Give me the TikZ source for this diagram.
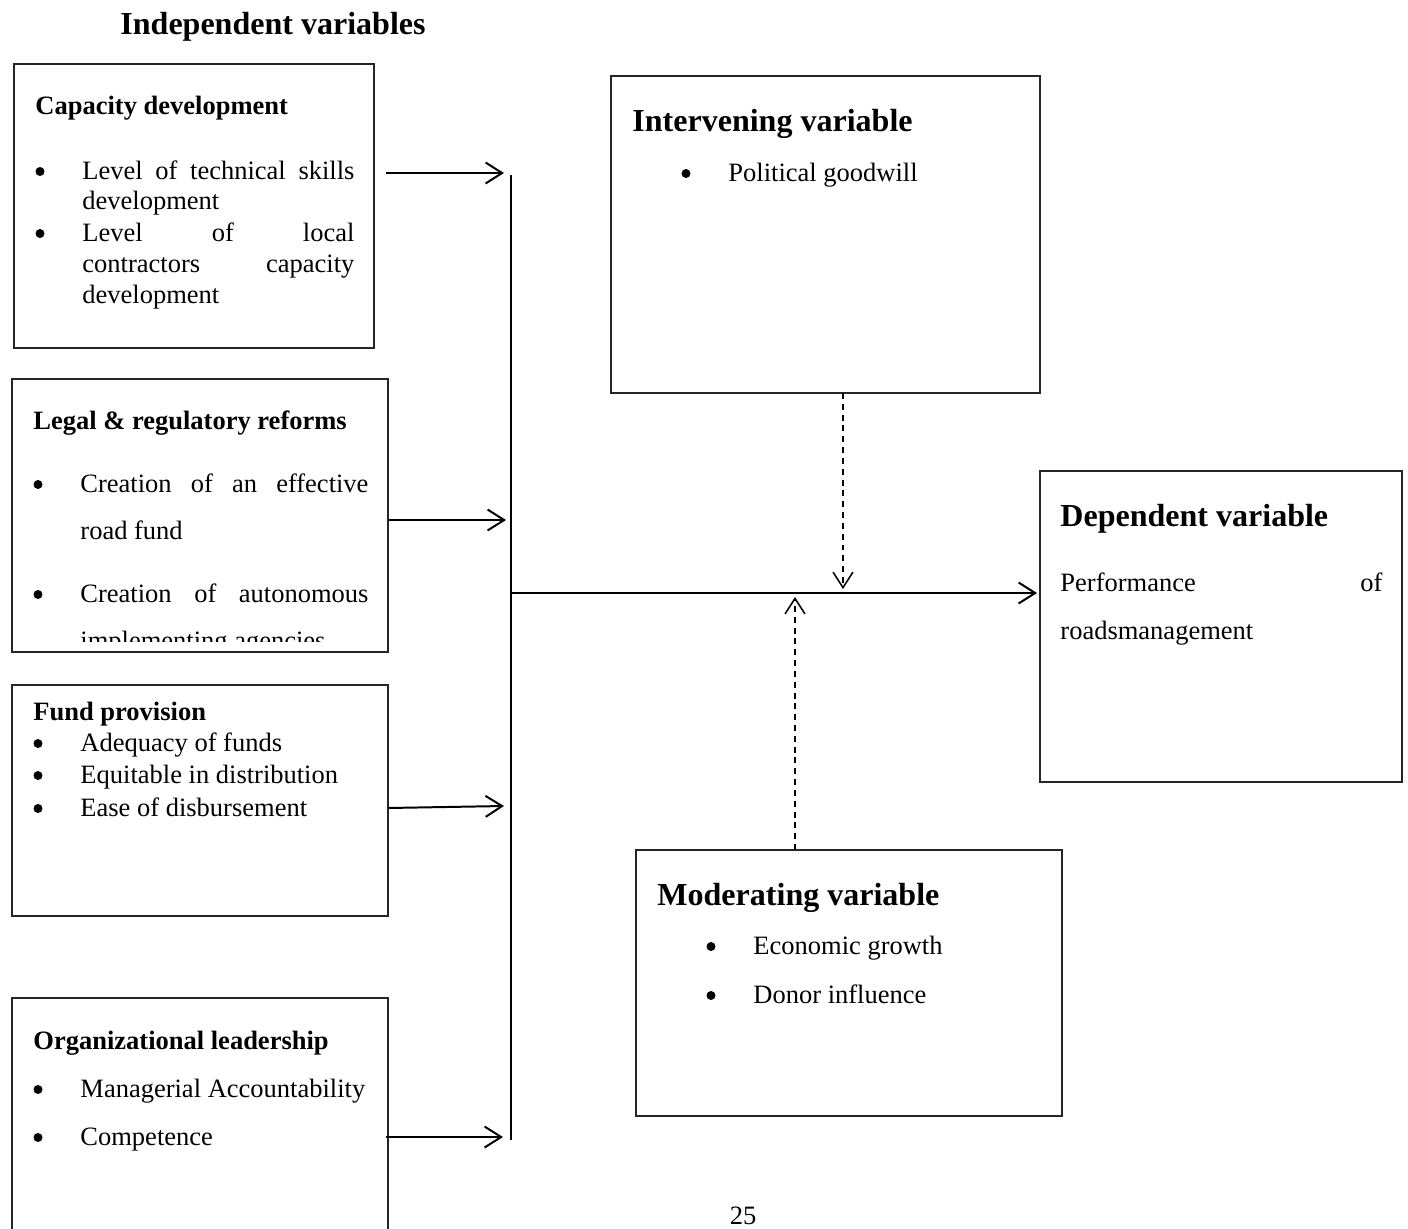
\documentclass[tikz,border=0pt]{standalone}
\usepackage{fontspec}
\setmainfont{Liberation Serif}
\usetikzlibrary{arrows.meta}
\newlength\pxu \setlength\pxu{0.4528pt}
\tikzset{
 box/.style={draw=black!85, line width=0.75pt, inner sep=0pt, outer sep=0pt},
 arr/.style={line width=0.9pt, -{Straight Barb[length=7.5pt,width=9.5pt,line width=0.9pt]}},
 darr/.style={line width=0.7pt, dash pattern=on 2.7pt off 2.2pt, -{Straight Barb[length=7pt,width=9pt,line width=0.7pt]}},
 txt/.style={anchor=base west, inner sep=0pt, font=\fontsize{12}{14}\selectfont},
 bul/.style={circle, fill=black, inner sep=0pt, minimum size=9\pxu},
 pgn/.style={anchor=base, inner sep=0pt, font=\fontsize{12}{14}\selectfont},
 hd/.style={anchor=base west, inner sep=0pt, font=\fontsize{12}{14}\selectfont\bfseries},
 bighd/.style={anchor=base west, inner sep=0pt, font=\fontsize{14.5}{17}\selectfont\bfseries},
}
\begin{document}
\begin{tikzpicture}[x=0.4528pt, y=-0.4528pt]
\useasboundingbox[fill=white] (0,0) rectangle (1408,1228);

% title
\node[bighd] (title) at (120,34) {Independent variables};

% Box 1
\node[box, minimum width=360\pxu, minimum height=284\pxu] (b1) at (194,206) {};
\node[hd] (b1h) at (35,114) {Capacity development};
\node[bul] (b1b1) at (40,171.5) {};
\node[txt] (b1l1) at (82,179) {\makebox[272\pxu][s]{Level of technical skills}};
\node[txt] (b1l2) at (82,209) {development};
\node[bul] (b1b2) at (40,233.5) {};
\node[txt] (b1l3) at (82,241) {\makebox[272\pxu][s]{Level of local}};
\node[txt] (b1l4) at (82,272) {\makebox[272\pxu][s]{contractors capacity}};
\node[txt] (b1l5) at (82,303) {development};

% Box 2
\node[box, minimum width=376\pxu, minimum height=273\pxu] (b2) at (200,515.5) {};
\node[hd] (b2h) at (33,429) {Legal \& regulatory reforms};
\node[bul] (b2b1) at (38,484.5) {};
\node[txt] (b2l1) at (80,492) {\makebox[288\pxu][s]{Creation of an effective}};
\node[txt] (b2l2) at (80,539) {road fund};
\node[bul] (b2b2) at (38,594.5) {};
\node[txt] (b2l3) at (80,602) {\makebox[288\pxu][s]{Creation of autonomous}};
\begin{scope}
\clip (0,0) rectangle (1408,641);
\node[txt] (b2l4) at (80,649) {implementing agencies};
\end{scope}

% Box 3
\node[box, minimum width=376\pxu, minimum height=231\pxu] (b3) at (200,800.5) {};
\node[hd] (b3h) at (33,720) {Fund provision};
\node[bul] (b3b1) at (38,743.5) {};
\node[txt] (b3l1) at (80,751) {Adequacy of funds};
\node[bul] (b3b2) at (38,775.5) {};
\node[txt] (b3l2) at (80,783) {Equitable in distribution};
\node[bul] (b3b3) at (38,808.5) {};
\node[txt] (b3l3) at (80,816) {Ease of disbursement};

% Box 4 (open at the bottom)
\draw[draw=black!85, line width=0.75pt] (12,1240) -- (12,998) -- (388,998) -- (388,1240);
\node[hd] (b4h) at (33,1049) {Organizational leadership};
\node[bul] (b4b1) at (38,1089.5) {};
\node[txt] (b4l1) at (80,1097) {Managerial Accountability};
\node[bul] (b4b2) at (38,1137.5) {};
\node[txt] (b4l2) at (80,1145) {Competence};

% Intervening
\node[box, minimum width=429\pxu, minimum height=317\pxu] (int) at (825.5,234.5) {};
\node[bighd] (inth) at (632,131) {Intervening variable};
\node[bul] (intb) at (686,173.5) {};
\node[txt] (intl) at (728,181) {Political goodwill};

% Dependent
\node[box, minimum width=362\pxu, minimum height=311\pxu] (dep) at (1221,626.5) {};
\node[bighd] (deph) at (1060,526) {Dependent variable};
\node[txt] (depl1) at (1060,591) {\makebox[322\pxu][s]{Performance of}};
\node[txt] (depl2) at (1060,639) {roadsmanagement};

% Moderating
\node[box, minimum width=426\pxu, minimum height=266\pxu] (mod) at (849,983) {};
\node[bighd] (modh) at (657,905) {Moderating variable};
\node[bul] (modb1) at (711,946.5) {};
\node[txt] (modl1) at (753,954) {Economic growth};
\node[bul] (modb2) at (711,995.5) {};
\node[txt] (modl2) at (753,1003) {Donor influence};

% page number
\node[pgn] (pg) at (743,1224) {25};

% connectors
\coordinate (s1) at (386,173); \coordinate (e1) at (504,173);
\coordinate (s2) at (388,520); \coordinate (e2) at (506,520);
\coordinate (s3) at (388,808); \coordinate (e3) at (504,806);
\coordinate (s4) at (386,1137); \coordinate (e4) at (503,1137);
\coordinate (bt) at (511,175); \coordinate (bb) at (511,1140);
\coordinate (bm) at (511,593); \coordinate (be) at (1037,593);
\draw[arr] (s1) -- (e1);
\draw[arr] (s2) -- (e2);
\draw[arr] (s3) -- (e3);
\draw[arr] (s4) -- (e4);
\draw[line width=0.9pt] (bt) -- (bb);
\draw[arr] (bm) -- (be);

\coordinate (is) at (843,393); \coordinate (ie) at (843,589);
\coordinate (ms) at (795,850); \coordinate (me) at (795,597);
\draw[darr] (is) -- (ie);
\draw[darr] (ms) -- (me);
\end{tikzpicture}
\end{document}
